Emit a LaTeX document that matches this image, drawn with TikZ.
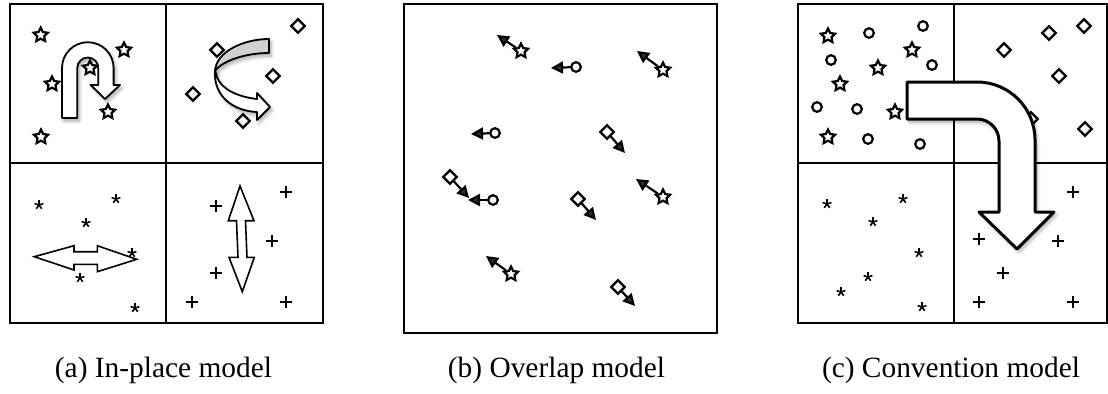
\documentclass[tikz,border=0pt]{standalone}
\usepackage{fontspec}
\setmainfont{Liberation Serif}
\usetikzlibrary{arrows.meta,shapes.geometric,shadows.blur}

\tikzset{
  panel/.style={line width=1pt},
  divider/.style={line width=0.9pt},
  starmark/.style={draw, star, star points=5, star point ratio=2, minimum size=7.4pt, inner sep=0pt, line width=1.1pt, fill=white},
  diamark/.style={draw, diamond, minimum size=7.2pt, inner sep=0pt, line width=1.1pt, fill=white},
  circmark/.style={draw, circle, minimum size=4.8pt, inner sep=0pt, line width=1.1pt, fill=white},
  plusmark/.style={inner sep=0pt, minimum size=6.4pt, path picture={
      \draw[line width=0.85pt] (path picture bounding box.west) -- (path picture bounding box.east)
        (path picture bounding box.north) -- (path picture bounding box.south);}},
  astmark/.style={inner sep=0pt, minimum size=4.8pt, path picture={
      \foreach \a in {90,162,234,306,378}
        \draw[line width=0.8pt] (path picture bounding box.center) -- ++(\a:2.3pt);}},
  movearrow/.style={line width=1.1pt, -{Triangle[length=6pt,width=6pt]}},
  bigarrow/.style={draw, fill=white, line width=0.9pt, line join=round,
    blur shadow={shadow xshift=1pt, shadow yshift=-1.5pt, shadow blur steps=8, shadow opacity=35}},
  flatarrow/.style={draw, fill=white, line width=0.8pt}
}

\begin{document}
\begin{tikzpicture}[x=0.5pt, y=-0.5pt, every node/.style={font=\fontsize{14.7}{17}\selectfont}]
  \useasboundingbox (0,0) rectangle (1108,393);

  % (a) In-place
  \draw[panel] (10,4) rectangle (323,323);
  \draw[divider] (166,4) -- (166,323) (10,163) -- (323,163);

  % u-turn
  \draw[bigarrow] (62,118) -- (62,68) arc[start angle=180, end angle=360, radius=25.8]
    -- (113.6,85) -- (120,85) -- (105,99) -- (90.7,85) -- (98.3,85) -- (98.3,68)
    arc[start angle=0, end angle=-180, radius=10.5] -- (77.3,118) -- cycle;

  % flip
  \draw[bigarrow, fill=black!18] (269,39) .. controls (243,39) and (216,52) .. (215,71)
    .. controls (221,62) and (243,53) .. (269,53) -- cycle;
  \draw[bigarrow] (215,70) .. controls (213,96) and (233,111) .. (257,112) -- (257,120) -- (270,107)
    -- (257,93) -- (257,99) .. controls (238,97) and (221,89) .. (217,77) -- cycle;

  % mirror
  \draw[flatarrow] (34.3,256.7) -- (74,245.7) -- (74,251.7) -- (97.3,251.7) -- (97.3,245.7)
    -- (136.7,259.3) -- (97.3,271.7) -- (97.3,264.3) -- (74,264.3) -- (74,270) -- cycle;
  \draw[flatarrow] (240,186) -- (254,220.7) -- (245.5,220.7) -- (247,257.3) -- (254.3,257.3)
    -- (242.3,291.7) -- (229,257.3) -- (238,257.3) -- (236.5,220.7) -- (228.3,220.7) -- cycle;

  \foreach \x/\y [count=\i] in {40.7/35, 124/50, 90/68, 52/84, 108/112, 41/137}
    \node[starmark] (ast\i) at (\x,\y) {};
  \foreach \x/\y [count=\i] in {298/26, 217/50, 273/76, 193/94, 243/121}
    \node[diamark] (adi\i) at (\x,\y) {};
  \foreach \x/\y [count=\i] in {39/205, 116/199, 86/223, 132/253, 80/278, 135/308}
    \node[astmark] (aas\i) at (\x,\y) {};
  \foreach \x/\y [count=\i] in {286/192, 216/206, 272/241, 216/273, 192/302, 286/302}
    \node[plusmark] (apl\i) at (\x,\y) {};

  % (b) Overlap
  \draw[panel] (404,4) rectangle (717,333);
  \foreach \x/\y/\ex/\ey [count=\i] in {521/51/497/35, 663/70/637/51, 663/197/636/179, 511/274/486/256}{
    \node[starmark] (bst\i) at (\x,\y) {};
    \coordinate (bste\i) at (\ex,\ey);
    \draw[movearrow] (bst\i) -- (bste\i);
  }
  \foreach \x/\y/\ex/\ey [count=\i] in {576/67/551/68, 495/133/471/134, 493/200/468/200}{
    \node[circmark] (bci\i) at (\x,\y) {};
    \coordinate (bcie\i) at (\ex,\ey);
    \draw[movearrow] (bci\i) -- (bcie\i);
  }
  \foreach \x/\y/\ex/\ey [count=\i] in {607/132/625/153, 450/177/469/198, 578/199/596/220, 618/287/635/306}{
    \node[diamark] (bdi\i) at (\x,\y) {};
    \coordinate (bdie\i) at (\ex,\ey);
    \draw[movearrow] (bdi\i) -- (bdie\i);
  }

  % (c) Convention
  \draw[panel] (798,4) rectangle (1106.5,323);
  \draw[divider] (954,4) -- (954,323) (798,163) -- (1106.5,163);

  \foreach \x/\y [count=\i] in {828/36, 912/50, 878/68, 840/84, 895/112, 828/137}
    \node[starmark] (cst\i) at (\x,\y) {};
  \foreach \x/\y [count=\i] in {869/33, 923/26, 831/60, 932/65, 817/107, 857/109, 868/139, 920/144}
    \node[circmark] (cci\i) at (\x,\y) {};
  \foreach \x/\y [count=\i] in {1084/26, 1049/33, 1004/50, 1059/76, 1031/119, 1085/129}
    \node[diamark] (cdi\i) at (\x,\y) {};
  \foreach \x/\y [count=\i] in {827/204, 903/199, 873/222, 919/253, 868/277, 841/292, 922/307}
    \node[astmark] (cas\i) at (\x,\y) {};
  \foreach \x/\y [count=\i] in {1073/192, 979/239, 1058/241, 1003/273, 979/302, 1073/302}
    \node[plusmark] (cpl\i) at (\x,\y) {};

  % turn
  \draw[bigarrow, line width=1.5pt] (907,82) -- (977,82) arc[start angle=270, end angle=360, radius=58]
    -- (1035,212) -- (1054,212) -- (1017,249) -- (979,212) -- (999,212) -- (999,141)
    arc[start angle=0, end angle=-90, radius=22] -- (907,119) -- cycle;

  % captions
  \node[anchor=base] (capa) at (163.5,377) {(a) In-place model};
  \node[anchor=base] (capb) at (556.5,377) {(b) Overlap model};
  \node[anchor=base] (capc) at (951,377) {(c) Convention model};
\end{tikzpicture}
\end{document}
